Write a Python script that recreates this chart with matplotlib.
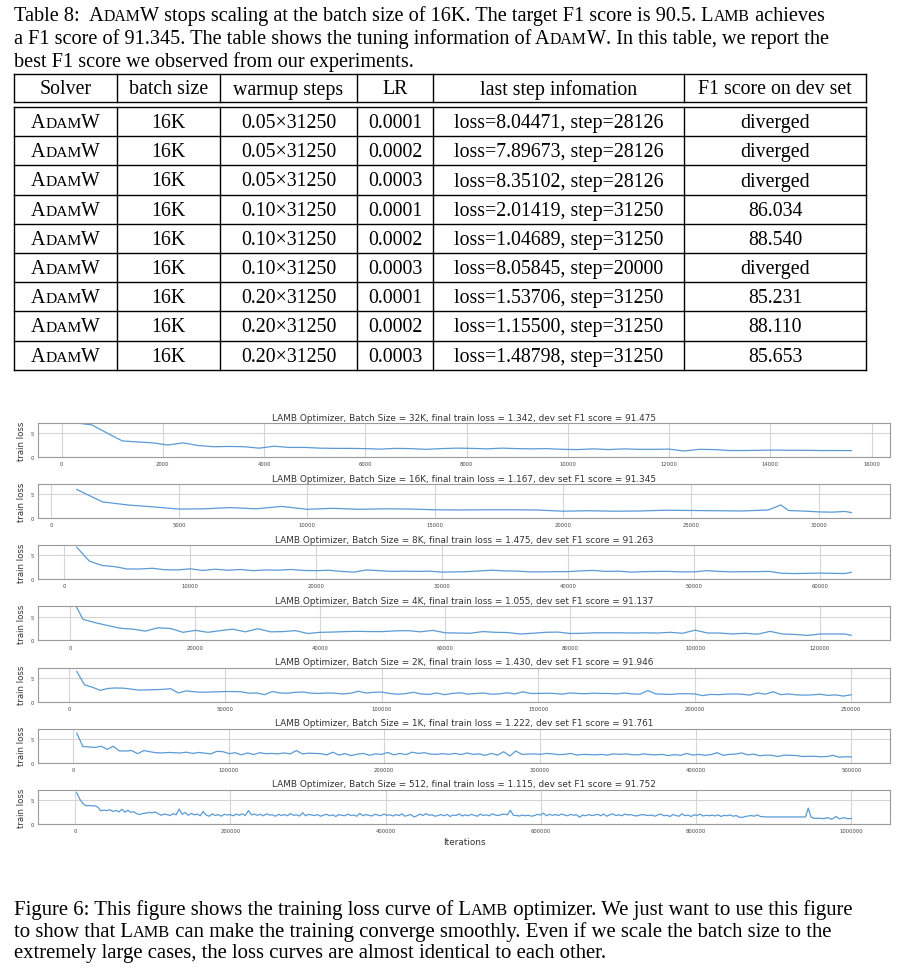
import numpy as np
import matplotlib
matplotlib.use("Agg")
import matplotlib.pyplot as plt
from matplotlib.offsetbox import TextArea, HPacker, AnnotationBbox

W, H = 898, 970
SERIF = ["Liberation Serif", "DejaVu Serif"]
SANS = ["DejaVu Sans"]
CAP = 14.6   # table caption text size
FIGCAP = 14.95  # figure caption text size
TAB = 14.3   # table text size

# ---------------- table data ----------------
headers = ["Solver", "batch size", "warmup steps", "LR",
           "last step infomation", "F1 score on dev set"]
solvers = ["AdamW"] * 9
batch_sizes = ["16K"] * 9
warmups = ["0.05×31250"] * 3 + ["0.10×31250"] * 3 + ["0.20×31250"] * 3
lrs = ["0.0001", "0.0002", "0.0003"] * 3
last_steps = ["loss=8.04471, step=28126", "loss=7.89673, step=28126",
              "loss=8.35102, step=28126", "loss=2.01419, step=31250",
              "loss=1.04689, step=31250", "loss=8.05845, step=20000",
              "loss=1.53706, step=31250", "loss=1.15500, step=31250",
              "loss=1.48798, step=31250"]
f1_scores = ["diverged", "diverged", "diverged", "86.034", "88.540",
             "diverged", "85.231", "88.110", "85.653"]

# ---------------- loss curves ----------------
batch_labels = ["32K", "16K", "8K", "4K", "2K", "1K", "512"]
final_losses = ["1.342", "1.167", "1.475", "1.055", "1.430", "1.222", "1.115"]
dev_f1 = ["91.475", "91.345", "91.263", "91.137", "91.946", "91.761", "91.752"]

loss_32k = [7.1, 6.7, 5.0, 3.35, 3.15, 2.95, 2.5, 2.95, 2.4, 2.15, 2.2, 2.15, 1.85,
            2.25, 2.0, 2.0, 1.85, 1.8, 1.8, 1.75, 1.65, 1.8, 1.75, 1.6, 1.75, 1.85,
            1.8, 1.7, 1.85, 1.75, 1.7, 1.75, 1.6, 1.55, 1.7, 1.55, 1.7, 1.6, 1.6,
            1.65, 1.25, 1.6, 1.55, 1.35, 1.35, 1.4, 1.45, 1.4, 1.4, 1.35, 1.35, 1.34]
steps_32k = 300 * np.arange(1, len(loss_32k) + 1)

steps_16k = [1000, 2000, 3000, 4000, 5000, 6000, 7000, 8000, 9000, 10000, 11000,
             12000, 13000, 14000, 15000, 16000, 17000, 18000, 19000, 20000, 21000,
             22000, 23000, 24000, 25000, 26000, 27000, 28000, 28500, 28800, 29500,
             30000, 30500, 31000, 31250]
loss_16k = [6.0, 3.4, 2.75, 2.35, 1.9, 1.95, 2.2, 1.95, 2.45, 1.85, 2.05, 1.85,
            1.95, 1.9, 1.75, 1.7, 1.75, 1.75, 1.7, 1.45, 1.55, 1.45, 1.5, 1.65, 1.6,
            1.55, 1.5, 1.7, 2.75, 1.6, 1.45, 1.3, 1.25, 1.4, 1.17]

loss_8k = [6.7, 3.8, 2.9, 2.65, 2.15, 2.15, 2.3, 2.0, 1.95, 2.2, 1.85, 2.1, 1.9,
           2.05, 1.8, 1.95, 1.9, 2.05, 1.85, 1.8, 1.9, 1.65, 1.5, 1.95, 1.8, 1.65,
           1.7, 1.65, 1.7, 1.5, 1.55, 1.6, 1.75, 1.9, 1.75, 1.7, 1.55, 1.55, 1.6,
           1.6, 1.75, 1.85, 1.65, 1.7, 1.5, 1.6, 1.65, 1.65, 1.55, 1.55, 1.8, 1.65,
           1.55, 1.6, 1.6, 1.65, 1.25, 1.2, 1.25, 1.3, 1.25, 1.2, 1.47]
steps_8k = list(1000 * np.arange(1, len(loss_8k))) + [62500]

loss_4k = [6.9, 4.4, 3.7, 3.1, 2.55, 2.35, 1.95, 2.65, 2.5, 1.7, 2.1, 1.7, 2.05,
           2.35, 1.8, 2.45, 1.8, 1.85, 2.05, 1.45, 1.7, 1.75, 1.85, 1.9, 1.85, 1.85,
           2.0, 2.05, 1.8, 2.1, 1.6, 1.55, 1.5, 1.85, 1.7, 1.65, 1.35, 1.5, 1.7,
           1.75, 1.45, 1.5, 1.6, 1.6, 1.6, 1.55, 1.6, 1.55, 1.7, 1.5, 2.15, 1.55,
           1.55, 1.35, 1.5, 1.3, 1.9, 1.35, 1.25, 1.05, 1.35, 1.35, 1.35, 1.06]
steps_4k = [1000] + list(2000 * np.arange(1, len(loss_4k) - 1)) + [125000]

loss_2k = [6.3, 3.5, 3.0, 2.35, 2.75, 2.85, 2.8, 2.6, 2.4, 2.45, 2.5, 2.55, 2.7,
           1.8, 2.25, 2.05, 1.95, 2.0, 2.05, 2.1, 2.1, 2.05, 1.75, 1.8, 1.45, 2.1,
           1.8, 1.75, 1.95, 2.0, 1.75, 1.7, 1.8, 1.75, 1.6, 1.75, 2.15, 1.8, 1.95,
           2.0, 1.7, 1.55, 1.65, 1.95, 1.6, 1.5, 1.8, 1.45, 1.7, 1.85, 1.55, 1.7,
           1.8, 1.55, 1.6, 1.85, 1.6, 2.05, 1.7, 1.7, 1.75, 1.7, 1.55, 1.8, 1.7,
           1.65, 1.75, 1.7, 1.7, 1.6, 1.8, 1.6, 1.55, 2.3, 1.6, 1.55, 1.5, 1.65,
           1.65, 1.6, 1.25, 1.5, 1.45, 1.55, 1.6, 1.55, 1.35, 1.8, 1.55, 2.05, 1.45,
           1.6, 1.4, 1.35, 1.4, 1.55, 1.3, 1.4, 1.15, 1.43]
steps_2k = np.linspace(2500, 250000, len(loss_2k))

loss_1k = [6.2, 3.4, 3.3, 3.2, 3.45, 2.8, 3.45, 2.45, 2.45, 2.55, 1.9, 2.55, 2.3,
           2.1, 2.05, 2.15, 2.1, 2.05, 2.2, 1.95, 2.15, 2.0, 1.85, 2.4, 2.3, 1.9,
           2.1, 1.65, 2.05, 1.7, 2.1, 1.9, 1.95, 1.85, 2.05, 1.85, 2.55, 1.85, 2.0,
           1.95, 1.9, 1.65, 2.2, 1.6, 1.9, 1.5, 1.8, 1.95, 1.55, 1.85, 1.75, 2.15,
           1.65, 1.95, 1.7, 2.2, 1.95, 2.1, 1.8, 1.75, 1.9, 1.75, 1.95, 1.7, 2.05,
           1.75, 1.85, 1.55, 1.95, 1.6, 2.3, 1.4, 2.45, 1.75, 1.8, 1.85, 1.75, 1.95,
           1.85, 1.7, 1.75, 1.95, 1.6, 1.75, 1.7, 1.65, 1.75, 1.6, 1.85, 1.75, 1.85,
           1.7, 1.65, 1.85, 1.7, 1.65, 1.75, 1.5, 1.7, 1.55, 1.95, 1.6, 1.75, 1.55,
           1.7, 2.1, 1.55, 1.75, 1.8, 2.05, 1.65, 1.8, 1.45, 1.6, 1.55, 1.3, 1.6,
           1.55, 1.5, 1.3, 1.35, 1.35, 1.25, 1.3, 1.55, 1.15, 1.25, 1.22]
steps_1k = np.linspace(2500, 500000, len(loss_1k))

loss_512_main = [
    6.5, 5.2, 4.3, 3.8, 3.85, 3.75, 3.8, 3.5, 2.75, 2.85,
    2.8, 2.95, 2.6, 2.8, 2.5, 3.05, 2.45, 2.85, 2.4, 2.55,
    2.1, 1.95, 2.2, 2.25, 2.4, 2.3, 2.5, 2.15, 1.8, 2.05,
    1.95, 1.75, 2.15, 1.9, 3.1, 2.0, 2.4, 1.8, 2.2, 1.9,
    2.05, 1.7, 2.6, 1.85, 1.6, 2.1, 1.75, 1.95, 1.6, 2.0,
    1.85, 1.95, 1.7, 2.05, 1.8, 2.1, 1.75, 2.8, 1.9, 2.05,
    1.8, 2.0, 1.7, 2.1, 1.85, 1.9, 1.6, 2.0, 1.75, 1.95,
    1.7, 2.15, 1.8, 1.9, 1.65, 2.35, 1.7, 2.0, 1.85, 1.75,
    1.95, 1.6, 1.85, 2.0, 1.7, 1.9, 1.55, 1.95, 1.8, 1.7,
    2.05, 1.75, 1.85, 1.6, 2.2, 1.7, 1.95, 1.8, 1.65, 2.0,
    1.85, 1.7, 2.05, 1.8, 1.9, 1.65, 1.95, 1.75, 2.1, 1.6,
    1.8, 1.95, 1.45, 1.7, 2.05, 1.75, 2.15, 1.8, 1.9, 1.6,
    1.75, 1.95, 1.7, 2.0, 1.55, 1.85, 1.75, 2.1, 1.65, 1.9,
    1.7, 2.0, 1.8, 1.6, 2.05, 1.75, 1.9, 1.7, 2.1, 1.85,
    1.75, 1.95, 2.05, 1.9, 2.85, 1.8, 1.75, 1.65, 1.85, 1.7,
    1.8, 1.6, 1.75, 2.0, 1.85, 2.25, 1.7, 2.0, 1.8, 1.95,
    1.75, 2.05, 1.85, 1.7, 2.0, 1.8, 1.9, 1.4, 1.85, 1.7,
    1.95, 1.75, 1.85, 2.0, 1.7, 2.05, 1.6, 1.9, 2.1, 1.75,
    1.9, 1.7, 2.05, 1.85, 1.95, 1.75, 1.65, 1.85, 1.95, 1.8,
    1.75, 1.85, 1.6, 1.9, 2.05, 1.7, 1.8, 1.55, 1.95, 1.75,
    1.6, 2.1, 1.7, 1.85, 1.55, 1.9, 1.75, 2.05, 1.65, 1.8,
    1.7, 1.85, 1.65, 1.9, 1.55, 1.8, 1.7, 1.85, 1.6, 1.75,
    1.4, 1.35, 1.55, 1.65, 1.75, 1.6, 1.9, 1.55, 1.5, 1.45]
steps_512_main = 2000 + 3880 * np.arange(len(loss_512_main))
steps_512_tail = [941000, 944500, 948000, 952000, 958000, 964000, 970000,
                  975000, 980000, 985000, 990000, 995000, 1000000]
loss_512_tail = [1.45, 3.3, 1.5, 1.15, 1.2, 1.1, 1.3, 0.95, 1.55, 1.05, 1.3,
                 1.1, 1.12]
steps_512 = list(steps_512_main) + steps_512_tail
loss_512 = loss_512_main + loss_512_tail

curve_steps = [steps_32k, steps_16k, steps_8k, steps_4k, steps_2k, steps_1k, steps_512]
curve_loss = [loss_32k, loss_16k, loss_8k, loss_4k, loss_2k, loss_1k, loss_512]
xtick_lists = [list(range(0, 16001, 2000)), list(range(0, 30001, 5000)),
               list(range(0, 60001, 10000)), list(range(0, 120001, 20000)),
               list(range(0, 250001, 50000)), list(range(0, 500001, 100000)),
               list(range(0, 1000001, 200000))]

# ---------------- helpers ----------------
def rich_line(ax, x, y, segments, size=CAP, align=(0.0, 0.5)):
    """Draw a line of text where ("sc", word) segments are set in small caps."""
    pieces = []
    for kind, s in segments:
        if kind == "sc":
            cur, cur_big = "", None
            for ch in s:
                big = ch.isupper() or not ch.isalpha()
                if cur_big is None or big == cur_big:
                    cur += ch if big else ch.upper()
                else:
                    pieces.append((cur, size if cur_big else size * 0.78))
                    cur = ch if big else ch.upper()
                cur_big = big
            pieces.append((cur, size if cur_big else size * 0.78))
        else:
            pieces.append((s, size))
    # trailing blanks are not measured, move them to the next piece
    fixed = []
    carry = ""
    for s, sz in pieces:
        s = carry + s
        stripped = s.rstrip(" ")
        carry = s[len(stripped):]
        fixed.append((stripped, sz))
    boxes = [TextArea(s, textprops=dict(fontsize=sz, family=SERIF, color="black"))
             for s, sz in fixed]
    pack = HPacker(children=boxes, align="baseline", pad=0, sep=0)
    ab = AnnotationBbox(pack, (x, y), xycoords="data", box_alignment=align,
                        frameon=False, pad=0)
    ax.add_artist(ab)


fig = plt.figure(figsize=(W / 100, H / 100), dpi=100)
bg = fig.add_axes([0, 0, 1, 1])
bg.set_xlim(0, W)
bg.set_ylim(H, 0)
bg.axis("off")

# table caption
rich_line(bg, 14, 16, [("t", "Table 8:  "), ("sc", "AdamW"),
                       ("t", " stops scaling at the batch size of 16K. The target F1 score is 90.5. "),
                       ("sc", "Lamb"), ("t", " achieves")])
rich_line(bg, 14, 39, [("t", "a F1 score of 91.345. The table shows the tuning information of "),
                       ("sc", "AdamW"), ("t", ". In this table, we report the")])
rich_line(bg, 14, 62, [("t", "best F1 score we observed from our experiments.")])

# table grid
col_edges = [14, 117, 220, 357, 433, 684, 866]
head_top, head_bot, body_top, row_h = 75, 103, 108, 29.2
n_rows = len(solvers)
body_bot = body_top + n_rows * row_h
lw = 1.0
bg.plot([col_edges[0], col_edges[-1]], [head_top, head_top], color="black", lw=lw)
bg.plot([col_edges[0], col_edges[-1]], [head_bot, head_bot], color="black", lw=lw)
for i in range(n_rows + 1):
    yy = body_top + i * row_h
    bg.plot([col_edges[0], col_edges[-1]], [yy, yy], color="black", lw=lw)
for xe in col_edges:
    bg.plot([xe, xe], [head_top, head_bot], color="black", lw=lw)
    bg.plot([xe, xe], [body_top, body_bot], color="black", lw=lw)

centers = [(col_edges[i] + col_edges[i + 1]) / 2 for i in range(len(col_edges) - 1)]
for cx, h in zip(centers, headers):
    bg.text(cx, (head_top + head_bot) / 2 + 1, h, fontsize=TAB, family=SERIF,
            ha="center", va="center")
for r in range(n_rows):
    cy = body_top + (r + 0.5) * row_h
    rich_line(bg, centers[0], cy + 1, [("sc", solvers[r])], size=TAB, align=(0.5, 0.5))
    for cx, val in zip(centers[1:], [batch_sizes[r], warmups[r], lrs[r],
                                     last_steps[r], f1_scores[r]]):
        bg.text(cx, cy + 1, val, fontsize=TAB, family=SERIF, ha="center", va="center")

# loss panels
left_px, right_px = 38, 890
top0, gap, ph = 424, 61.15, 34
line_color = "#5b9bd5"
for k in range(len(batch_labels)):
    top = top0 + k * gap
    ax = fig.add_axes([left_px / W, 1 - (top + ph) / H, (right_px - left_px) / W, ph / H])
    ax.plot(curve_steps[k], curve_loss[k], color=line_color, lw=0.9)
    ax.set_ylim(0, 7.1)
    ax.set_yticks([0, 5])
    ax.set_xticks(xtick_lists[k])
    ax.set_xticklabels([str(t) for t in xtick_lists[k]])
    ax.grid(True, color="#d5d5d5", lw=0.8)
    ax.set_axisbelow(True)
    for sp in ax.spines.values():
        sp.set_color("#9a9a9a")
        sp.set_linewidth(0.8)
    ax.tick_params(length=0, labelsize=3.8, labelcolor="#444444", pad=3)
    ax.set_ylabel("train loss", fontsize=6.2, color="#333333", family=SANS, labelpad=3)
    ax.set_title(f"LAMB Optimizer, Batch Size = {batch_labels[k]}, final train loss = "
                 f"{final_losses[k]}, dev set F1 score = {dev_f1[k]}",
                 fontsize=6.4, color="#333333", family=SANS, pad=2.5)
    if k == len(batch_labels) - 1:
        ax.set_xlabel("Iterations", fontsize=6.4, color="#333333", family=SANS, labelpad=3)

# figure caption
rich_line(bg, 14, 910, [("t", "Figure 6: This figure shows the training loss curve of "),
                        ("sc", "Lamb"),
                        ("t", " optimizer. We just want to use this figure")], size=FIGCAP)
rich_line(bg, 14, 932, [("t", "to show that "), ("sc", "Lamb"),
                        ("t", " can make the training converge smoothly. Even if we scale the batch size to the")],
          size=FIGCAP)
rich_line(bg, 14, 954, [("t", "extremely large cases, the loss curves are almost identical to each other.")],
          size=FIGCAP)

fig.savefig("out.png", dpi=100)
